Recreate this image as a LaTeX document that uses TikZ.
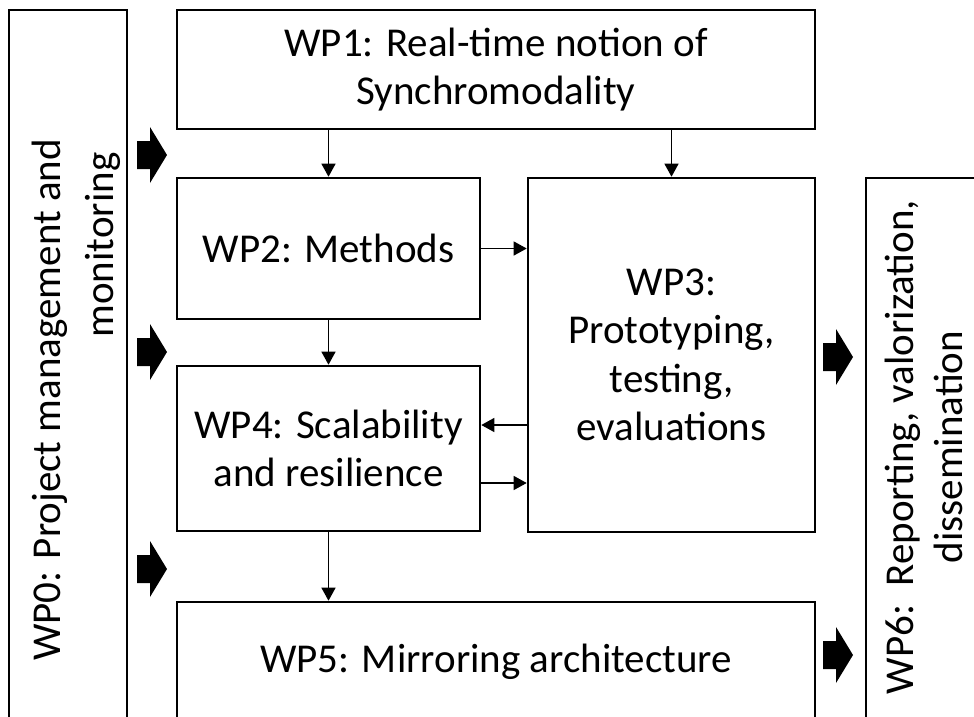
\documentclass[tikz,border=0pt]{standalone}
\usepackage{fontspec}
\setmainfont{Carlito}
\usetikzlibrary{arrows.meta}
\tikzset{
  wp box/.style={draw, rectangle, line width=2.6pt, align=center, inner sep=0pt},
  wp label/.style={rotate=90, align=center, inner sep=0pt},
  flow/.style={-{Triangle[length=13pt,width=14pt]}, line width=1.3pt},
  block arrow/.pic={\fill (-15,-14) -- (-2,-14) -- (-2,-28) -- (15,0) -- (-2,28) -- (-2,14) -- (-15,14) -- cycle;},
}

\begin{document}
\begin{tikzpicture}[x=1pt, y=-1pt, every node/.style={font=\fontsize{41}{48.5}\selectfont}]
  \useasboundingbox (0,0) rectangle (974,716);
  \clip (0,0) rectangle (974,716);
  % side boxes
  \node[wp box, minimum width=118pt, minimum height=780pt] (wp0) at (68,400) {};
  \node[wp label] (wp0a) at (50,400) {WP0: Project management and};
  \node[wp label] (wp0b) at (103,245) {monitoring};
  \node[wp box, minimum width=144pt, minimum height=562pt] (wp6) at (938,459) {};
  \node[wp label] (wp6t) at (924,447) {WP6:\ \ Reporting, valorization,\\dissemination};
  % work packages
  \node[wp box, minimum width=638pt, minimum height=119pt] (wp1) at (496,69.5) {WP1: Real-time notion of\\Synchromodality};
  \node[wp box, minimum width=303pt, minimum height=141pt] (wp2) at (328.5,248.5) {WP2: Methods};
  \node[wp box, minimum width=287pt, minimum height=354pt] (wp3) at (671.5,355) {WP3:\\Prototyping,\\testing,\\evaluations};
  \node[wp box, minimum width=303pt, minimum height=165pt] (wp4) at (328.5,448.5) {WP4: Scalability\\and resilience};
  \node[wp box, minimum width=638pt, minimum height=120pt] (wp5) at (496,662) {WP5: Mirroring architecture};
  % flows
  \draw[flow] (wp1.south -| wp2) -- (wp2);
  \draw[flow] (wp1.south -| wp3) -- (wp3);
  \draw[flow] (wp2.east) -- (wp2.east -| wp3.west);
  \draw[flow] (wp2) -- (wp4);
  \coordinate (in4) at ([yshift=23.5pt]wp4.east);
  \coordinate (out4) at ([yshift=-34.5pt]wp4.east);
  \draw[flow] (in4 -| wp3.west) -- (in4);
  \draw[flow] (out4) -- (out4 -| wp3.west);
  \draw[flow] (wp4.south) -- (wp4.south |- wp5.north);
  % inputs and outputs
  \foreach \y in {155,352,569}{\pic at (152,\y) {block arrow};}
  \foreach \y in {357,655}{\pic at (838,\y) {block arrow};}
\end{tikzpicture}
\end{document}
